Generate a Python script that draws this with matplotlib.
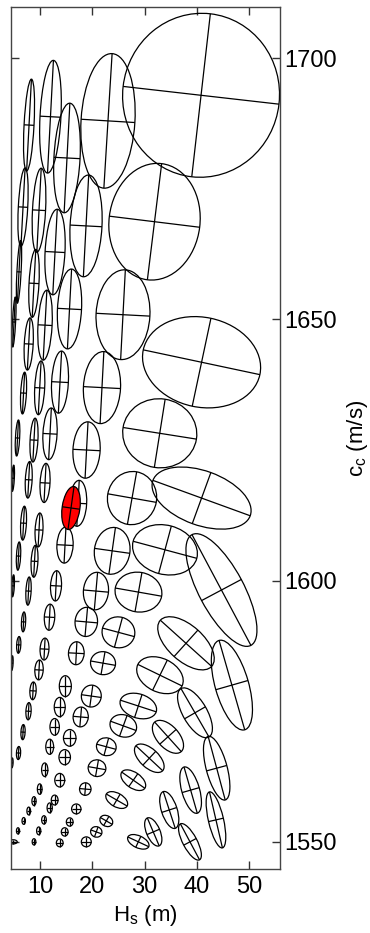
import numpy as np
import matplotlib
matplotlib.use("Agg")
import matplotlib.pyplot as plt
from matplotlib.patches import Ellipse
from matplotlib.collections import LineCollection

plt.rcParams['font.family'] = ['Liberation Sans', 'DejaVu Sans']
plt.rcParams['mathtext.default'] = 'regular'

# ---- data: uncertainty ellipses, one chain per list group ----
# hs = H_s centre (m), cs = c_s centre (m/s), a = axis length along tilt, b = perpendicular axis length, tilt (deg)
chain_F = dict(hs=[5.03, 5.98, 6.75, 7.9],
               cs=[1649.5, 1659.1, 1671.5, 1687.2],
               a=[0.6, 0.8, 1.8, 1.9],
               b=[9.6, 12.0, 15.0, 17.6],
               tilt=[-3, -3, -3, -3])

chain_E = dict(hs=[4.84, 5.7, 6.85, 7.84, 8.85, 9.81, 12.0],
               cs=[1619.6, 1627.3, 1635.9, 1645.3, 1656.9, 1670.9, 1688.8],
               a=[0.5, 0.8, 1.1, 1.7, 1.9, 2.5, 4.0],
               b=[5.0, 6.9, 8.0, 10.0, 13.0, 16.1, 21.6],
               tilt=[-3, -3, -3, -3, -3, -3, -3])

chain_D = dict(hs=[4.84, 5.89, 6.85, 7.84, 8.85, 9.94, 10.96, 12.87, 15.16],
               cs=[1599.0, 1604.7, 1611.0, 1619.3, 1626.9, 1636.9, 1648.9, 1662.9, 1680.9],
               a=[0.5, 0.8, 1.1, 1.3, 1.5, 1.9, 2.7, 3.8, 5.0],
               b=[4.2, 5.4, 6.5, 7.0, 8.4, 10.3, 13.4, 16.4, 21.0],
               tilt=[-3, -3, -3, -3, -3, -3, -3, -3, -3])

chain_C = dict(hs=[4.65, 5.93, 6.85, 7.8, 8.95, 9.81, 10.96, 11.91, 13.82, 15.64, 18.8, 23.0],
               cs=[1584.2, 1587.7, 1592.1, 1598.0, 1603.7, 1609.7, 1618.7, 1628.1, 1638.0, 1652.0, 1667.9, 1688.0],
               a=[0.4, 0.8, 0.8, 1.0, 1.3, 1.5, 1.9, 2.7, 3.2, 4.6, 6.1, 10.3],
               b=[2.8, 3.2, 3.8, 5.4, 6.1, 6.5, 7.5, 9.9, 11.9, 15.3, 19.5, 25.8],
               tilt=[-3, -3, -3, -3, -3, -3, -3, -3, -3, -3, -3, -3.5])

chain_B = dict(hs=[4.65, 5.89, 6.75, 7.8, 8.66, 9.81, 10.86, 11.82, 13.06, 14.78, 17.27, 18.9, 21.85, 25.87, 31.9, 40.8],
               cs=[1565.1, 1567.0, 1571.0, 1575.0, 1578.9, 1582.9, 1586.9, 1593.0, 1599.0, 1606.8, 1614.8, 1625.0, 1636.95, 1650.9, 1668.7, 1692.9],
               a=[0.4, 0.8, 0.8, 1.0, 1.2, 1.6, 1.7, 2.0, 2.1, 3.1, 3.3, 5.2, 7.1, 10.3, 17.4, 30.0],
               b=[1.9, 2.5, 2.9, 3.3, 3.4, 3.8, 4.2, 5.0, 5.8, 6.9, 8.8, 10.8, 13.8, 17.2, 22.4, 31.4],
               tilt=[-3, -3, -3, -3, -3, -3, -3, -3, -3, -3, -3, -3, -3, -3, -7, -6.5])

chain_A = dict(hs=[4.84, 5.79, 6.88, 7.84, 8.85, 9.94, 10.9, 11.85, 12.8, 13.77, 14.84, 16.94, 18.85, 20.7, 23.8, 27.6, 32.9, 40.9],
               cs=[1550.0, 1552.1, 1554.0, 1555.9, 1557.8, 1560.1, 1563.8, 1568.2, 1572.0, 1575.8, 1579.8, 1586.1, 1592.1, 1598.0, 1605.7, 1615.8, 1628.2, 1641.8],
               a=[1.6, 0.6, 0.65, 0.7, 0.8, 0.9, 1.2, 1.5, 1.8, 2.1, 2.3, 3.0, 4.3, 4.8, 6.8, 9.4, 14.2, 22.8],
               b=[0.8, 1.2, 1.3, 1.5, 1.7, 2.0, 2.6, 2.9, 3.2, 3.7, 4.0, 4.4, 5.6, 7.2, 9.0, 10.2, 13.2, 17.2],
               tilt=[0, 0, 0, 0, 0, 0, 0, 0, 0, 0, 0, -3, -5, -5, -8, -10, -9, -12])

chain_G = dict(hs=[8.85, 9.75, 10.76, 11.85, 12.8, 13.77, 14.72, 15.68, 17.78, 19.81, 22.05, 25.0, 28.83, 33.9, 40.9],
               cs=[1550.0, 1552.1, 1554.2, 1556.5, 1558.0, 1561.8, 1566.2, 1569.9, 1573.9, 1577.9, 1584.2, 1590.1, 1597.8, 1605.9, 1615.8],
               a=[0.7, 0.8, 0.9, 1.0, 1.3, 1.9, 2.2, 2.4, 2.9, 3.8, 4.8, 6.3, 9.0, 12.6, 19.8],
               b=[1.2, 1.5, 1.6, 1.9, 1.9, 2.6, 2.9, 3.2, 3.8, 4.2, 4.4, 5.9, 7.6, 9.4, 10.4],
               tilt=[0, 0, 0, 0, 0, 0, 0, 0, -5, -8, -10, -15, -10, -15, -20])

chain_H = dict(hs=[13.77, 14.72, 15.68, 16.94, 18.66, 20.9, 22.68, 25.93, 28.8, 32.94, 37.92, 44.7],
               cs=[1549.8, 1551.9, 1553.8, 1556.3, 1560.1, 1564.1, 1568.2, 1572.2, 1576.0, 1581.9, 1588.0, 1598.2],
               a=[1.3, 1.3, 1.3, 1.8, 2.2, 3.4, 3.8, 5.2, 7.2, 9.4, 13.2, 24.0],
               b=[1.5, 1.6, 1.6, 1.9, 2.4, 3.2, 3.4, 4.2, 4.6, 6.4, 6.8, 8.6],
               tilt=[0, 0, 0, 0, -5, -10, -15, -20, -18, -26, -42, -62])

chain_I = dict(hs=[18.85, 20.76, 22.68, 24.67, 27.84, 30.9, 34.47, 39.64, 46.7],
               cs=[1550.0, 1551.9, 1554.0, 1558.0, 1561.8, 1566.0, 1570.1, 1574.7, 1580.0],
               a=[1.9, 2.2, 2.6, 4.6, 5.4, 7.0, 7.6, 10.7, 17.8],
               b=[1.9, 2.0, 2.0, 2.6, 3.0, 3.6, 4.2, 4.6, 6.4],
               tilt=[0, -20, -30, -30, -35, -43, -48, -60, -74])

chain_J = dict(hs=[28.8, 31.66, 34.72, 38.81, 43.79],
               cs=[1550.0, 1551.9, 1556.1, 1559.9, 1564.1],
               a=[4.4, 5.8, 7.4, 9.2, 12.6],
               b=[2.3, 2.6, 3.0, 3.4, 4.0],
               tilt=[-25, -67, -72, -74, -75])

chain_K = dict(hs=[38.68, 43.65],
               cs=[1550.0, 1554.2],
               a=[7.8, 11.0],
               b=[2.7, 2.9],
               tilt=[-62, -77])

# highlighted (true-model) ellipse
red_hs, red_cs, red_a, red_b, red_tilt = 15.93, 1613.9, 3.4, 8.3, -8

chains = [chain_F, chain_E, chain_D, chain_C, chain_B, chain_A,
          chain_G, chain_H, chain_I, chain_J, chain_K]

x_ticks = [10, 20, 30, 40, 50]
y_ticks = [1550, 1600, 1650, 1700]

# ---- figure ----
fig = plt.figure(figsize=(3.70, 9.33), dpi=100)
ax = fig.add_axes([11 / 370, 64 / 933, 269 / 370, 862 / 933])
ax.set_xlim(4.45, 55.9)
ax.set_ylim(1544.8, 1709.8)

LW = 0.9


def cross_segments(x, y, a, b, tilt):
    t = np.radians(tilt)
    ca, sa = np.cos(t), np.sin(t)
    s1 = [(x - a / 2 * ca, y - a / 2 * sa), (x + a / 2 * ca, y + a / 2 * sa)]
    s2 = [(x + b / 2 * sa, y - b / 2 * ca), (x - b / 2 * sa, y + b / 2 * ca)]
    return [s1, s2]


segs = []
for ch in chains:
    for x, y, a, b, t in zip(ch['hs'], ch['cs'], ch['a'], ch['b'], ch['tilt']):
        ax.add_patch(Ellipse((x, y), a, b, angle=t, fill=False,
                             ec='black', lw=LW, zorder=2))
        segs += cross_segments(x, y, a, b, t)
ax.add_collection(LineCollection(segs, colors='black', linewidths=LW, zorder=2))

# red ellipse on top
ax.add_patch(Ellipse((red_hs, red_cs), red_a, red_b, angle=red_tilt,
                     fc='#ff0000', ec='black', lw=LW, zorder=3))
ax.add_collection(LineCollection(cross_segments(red_hs, red_cs, red_a, red_b, red_tilt),
                                 colors='black', linewidths=LW, zorder=4))

ax.set_xticks(x_ticks)
ax.set_yticks(y_ticks)
ax.tick_params(direction='in', length=6, width=1, colors='#333333',
               top=True, bottom=True, left=True, right=True,
               labelleft=False, labelright=True, labelsize=17,
               labelcolor='black')
ax.tick_params(axis='x', pad=5)
ax.tick_params(axis='y', pad=3)
for s in ax.spines.values():
    s.set_color('#444444')
    s.set_linewidth(1.0)

ax.yaxis.set_label_position('right')
ax.set_ylabel(r'c$_\mathregular{c}$ (m/s)', fontsize=16, labelpad=6)
ax.set_xlabel(r'H$_\mathregular{s}$ (m)', fontsize=16, labelpad=4)

fig.savefig('out.png', dpi=100)
